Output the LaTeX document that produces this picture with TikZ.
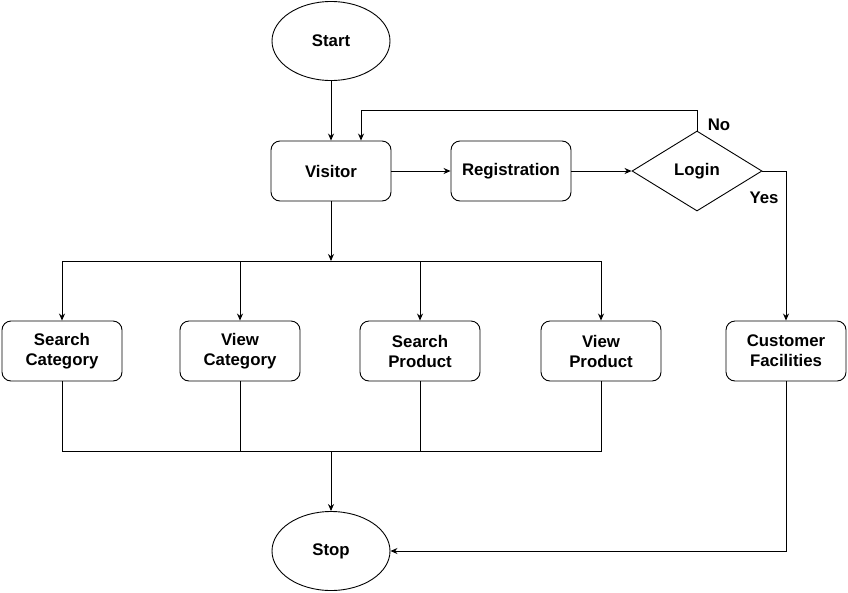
\documentclass[tikz,border=0pt]{standalone}
\usepackage{fontspec}
\setmainfont{Liberation Sans}
\usetikzlibrary{shapes.geometric,arrows.meta}

\begin{document}
\begin{tikzpicture}[x=1pt, y=-1pt, line width=0.9pt,
		every node/.style={font=\fontsize{16.8}{20}\selectfont\bfseries},
		terminal/.style={ellipse,draw,minimum width=118pt,minimum height=79pt},
		process/.style={rectangle,draw,rounded corners=9pt,minimum width=120pt,minimum height=60pt,align=center},
		decision/.style={diamond,draw,minimum width=130pt,minimum height=80pt,inner sep=0pt},
		arrow/.style={-{Stealth[length=7pt,width=6pt]}}
		]
	\useasboundingbox (0,0) rectangle (848,592);
	% nodes
	\node [terminal] (start) at (331,41) {Start};
	\node [process] (visitor) at (331,171) {Visitor};
	\node [process] (registration) at (511,171) {Registration};
	\node [decision] (login) at (697,171) {Login};
	\node [process] (searchcat) at (62,351) {Search\\Category};
	\node [process] (viewcat) at (240,351) {View\\Category};
	\node [process] (searchprod) at (420,351) {Search\\Product};
	\node [process] (viewprod) at (601,351) {View\\Product};
	\node [process] (custfac) at (786,351) {Customer\\Facilities};
	\node [terminal] (stop) at (331,551) {Stop};
	\coordinate (split) at (331,261);
	\coordinate (join) at (331,451);
	% connectors
	\draw [arrow] (start) -- (visitor);
	\draw [arrow] (visitor) -- (registration);
	\draw [arrow] (registration) -- (login);
	\draw [arrow] (login.north) -- ++(0,-20) -| ([xshift=30pt]visitor.north);
	\node (no) at (719,125) {No};
	\draw [arrow] (login.east) -| (custfac.north);
	\node (yes) at (764,198) {Yes};
	\draw [arrow] (visitor) -- (split);
	\draw (split -| searchcat) -- (split -| viewprod);
	\foreach \n in {searchcat,viewcat,searchprod,viewprod}
		\draw [arrow] (split -| \n) -- (\n);
	\draw (searchcat) -- (searchcat |- join) -- (viewprod |- join) -- (viewprod);
	\draw (viewcat) -- (viewcat |- join);
	\draw (searchprod) -- (searchprod |- join);
	\draw [arrow] (join) -- (stop);
	\draw [arrow] (custfac) |- (stop);
\end{tikzpicture}
\end{document}
